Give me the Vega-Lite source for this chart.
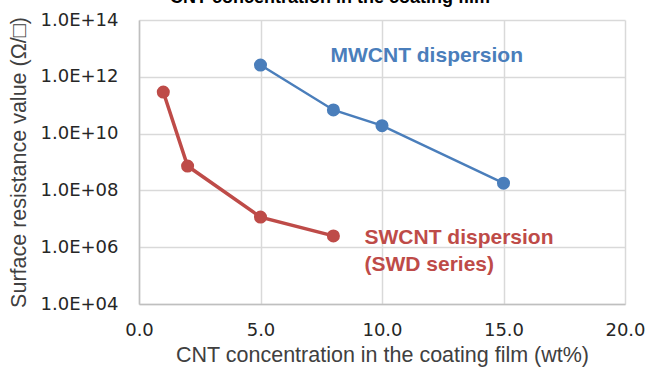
{
  "$schema": "https://vega.github.io/schema/vega-lite/v6.json",
  "width": 486,
  "height": 284,
  "autosize": {"type": "none"},
  "padding": {"left": 139, "top": 20, "right": 37, "bottom": 65},
  "background": "white",
  "title": {
    "text": "CNT concentration in the coating film",
    "font": "Liberation Sans",
    "fontSize": 18,
    "fontWeight": "bold",
    "color": "#000000",
    "anchor": "middle",
    "frame": "group",
    "dx": -52,
    "offset": 4
  },
  "config": {
    "view": {"stroke": null},
    "axis": {
      "gridColor": "#D9D9D9",
      "gridWidth": 1.5,
      "domainColor": "#BFBFBF",
      "domainWidth": 1.5,
      "ticks": false,
      "labelFont": "DejaVu Sans",
      "labelFontSize": 18,
      "labelColor": "#262626",
      "titleFont": "Liberation Sans",
      "titleFontSize": 21.5,
      "titleFontWeight": "normal",
      "titleColor": "#404040"
    }
  },
  "datasets": {
    "series": [
      {"series": "MWCNT", "conc": 5, "resistance": 2.6e12},
      {"series": "MWCNT", "conc": 8, "resistance": 6.8e10},
      {"series": "MWCNT", "conc": 10, "resistance": 1.9e10},
      {"series": "MWCNT", "conc": 15, "resistance": 1.8e8},
      {"series": "SWCNT", "conc": 1, "resistance": 2.9e11},
      {"series": "SWCNT", "conc": 2, "resistance": 7.2e8},
      {"series": "SWCNT", "conc": 5, "resistance": 1.15e7},
      {"series": "SWCNT", "conc": 8, "resistance": 2.5e6}
    ],
    "labels": [
      {"series": "MWCNT", "conc": 7.88, "resistance": 5.4e12, "label": "MWCNT dispersion"},
      {"series": "SWCNT", "conc": 9.28, "resistance": 2.1e6, "label": "SWCNT dispersion"},
      {"series": "SWCNT", "conc": 9.28, "resistance": 2.35e5, "label": "(SWD series)"}
    ]
  },
  "encoding": {
    "x": {
      "field": "conc",
      "type": "quantitative",
      "scale": {"domain": [0, 20], "nice": false, "zero": false},
      "axis": {
        "values": [0, 5, 10, 15, 20],
        "format": ".1f",
        "labelFlush": false,
        "labelPadding": 17,
        "titlePadding": 5,
        "title": "CNT concentration in the coating film (wt%)"
      }
    },
    "y": {
      "field": "resistance",
      "type": "quantitative",
      "scale": {"type": "log", "domain": [1e4, 1e14], "nice": false},
      "axis": {
        "values": [1e4, 1e6, 1e8, 1e10, 1e12, 1e14],
        "labelExpr": "'1.0E+' + format(round(log(datum.value) / LN10), '02d')",
        "labelFlush": false,
        "labelPadding": 21,
        "titlePadding": 10,
        "title": "Surface resistance value (Ω/□)"
      }
    },
    "color": {
      "field": "series",
      "type": "nominal",
      "scale": {"domain": ["MWCNT", "SWCNT"], "range": ["#4A7EBB", "#BE4B48"]},
      "legend": null
    }
  },
  "layer": [
    {
      "data": {"name": "series"},
      "mark": {"type": "line"},
      "encoding": {
        "strokeWidth": {
          "field": "series",
          "type": "nominal",
          "scale": {"domain": ["MWCNT", "SWCNT"], "range": [2.5, 3.5]},
          "legend": null
        }
      }
    },
    {
      "data": {"name": "series"},
      "mark": {"type": "circle", "size": 170, "opacity": 1}
    },
    {
      "data": {"name": "labels"},
      "mark": {
        "type": "text",
        "align": "left",
        "baseline": "middle",
        "font": "Liberation Sans",
        "fontSize": 21,
        "fontWeight": "bold"
      },
      "encoding": {"text": {"field": "label", "type": "nominal"}}
    }
  ]
}
